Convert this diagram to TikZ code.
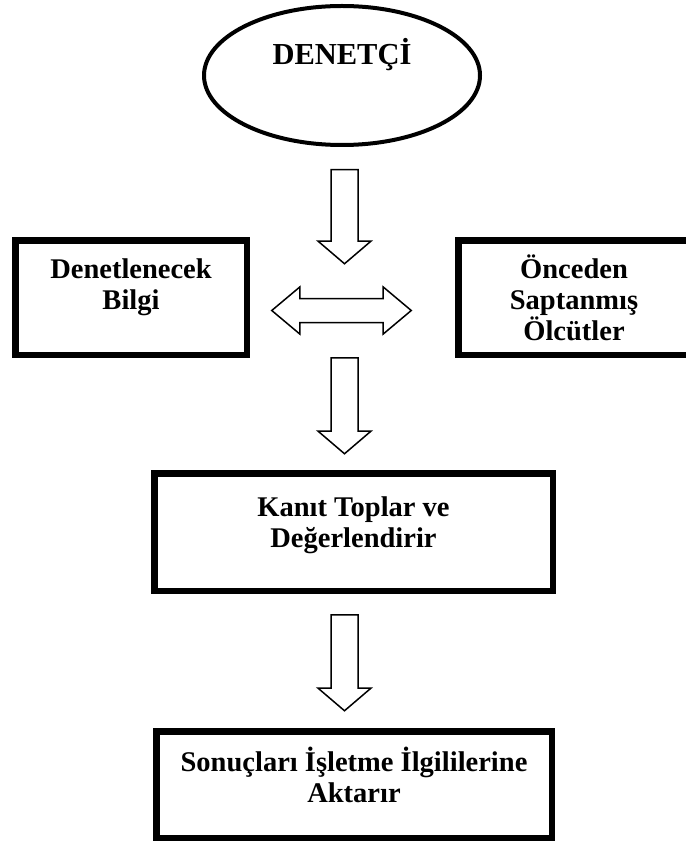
\documentclass[tikz,border=0pt]{standalone}
\usepackage{fontspec}
\setmainfont{Liberation Serif}
\usetikzlibrary{positioning}
\usetikzlibrary{shapes.geometric}
\usetikzlibrary{shapes.arrows}
\tikzset{frame/.style = {draw, rectangle, line width = 6.5pt, inner sep = 0}}
\tikzset{lbl/.style = {align = center, inner sep = 0, font = \bfseries\fontsize{28.5}{31}\selectfont}}
\tikzset{downarrow/.style = {draw, single arrow, line width = 1.5pt, rotate = -90, anchor = tail,
                             inner xsep = 0, inner ysep = 12.75pt, minimum width = 51.5pt,
                             single arrow head extend = 13pt, single arrow tip angle = 99}}

\begin{document}
\begin{tikzpicture}[x = 1pt, y = -1pt]
      \useasboundingbox (0, 0) rectangle (685, 850);
      \node [draw, ellipse, line width = 4pt, inner sep = 0, minimum width = 276pt, minimum height = 139pt] (denetci) at (342, 75.5) {};
      \node [lbl, font = \bfseries\fontsize{30.5}{33}\selectfont, below = 34pt of denetci.north] (denetcitxt) {DENETÇİ};
      \node [downarrow, minimum height = 94pt] (ok1) at (344.5, 169) {};
      \node [frame, minimum width = 231.5pt, minimum height = 114.5pt] (bilgi) at (131, 297.5) {};
      \node [lbl, below = 22pt of bilgi.north] (bilgitxt) {Denetlenecek\\Bilgi};
      \node [frame, minimum width = 231.5pt, minimum height = 114.5pt] (olcut) at (574, 297.5) {};
      \node [lbl, below = 18pt of olcut.north] (olcuttxt) {Önceden\\Saptanmış\\Ölcütler};
      \node [draw, double arrow, line width = 1.5pt, inner xsep = 0, inner ysep = 11.25pt, minimum width = 45.5pt,
             minimum height = 139.5pt, double arrow head extend = 11.5pt, double arrow tip angle = 80] (karsi) at (341.5, 310.5) {};
      \node [downarrow, minimum height = 96pt] (ok2) at (344.5, 357) {};
      \node [frame, minimum width = 398.5pt, minimum height = 117.5pt] (kanit) at (353.5, 532) {};
      \node [lbl, below = 26.5pt of kanit.north] (kanittxt) {Kanıt Toplar ve\\Değerlendirir};
      \node [downarrow, minimum height = 96pt] (ok3) at (344.5, 614) {};
      \node [frame, minimum width = 395.5pt, minimum height = 106.5pt] (sonuc) at (354, 784.5) {};
      \node [lbl, below = 19pt of sonuc.north] (sonuctxt) {Sonuçları İşletme İlgililerine\\Aktarır};
    \end{tikzpicture}
\end{document}
